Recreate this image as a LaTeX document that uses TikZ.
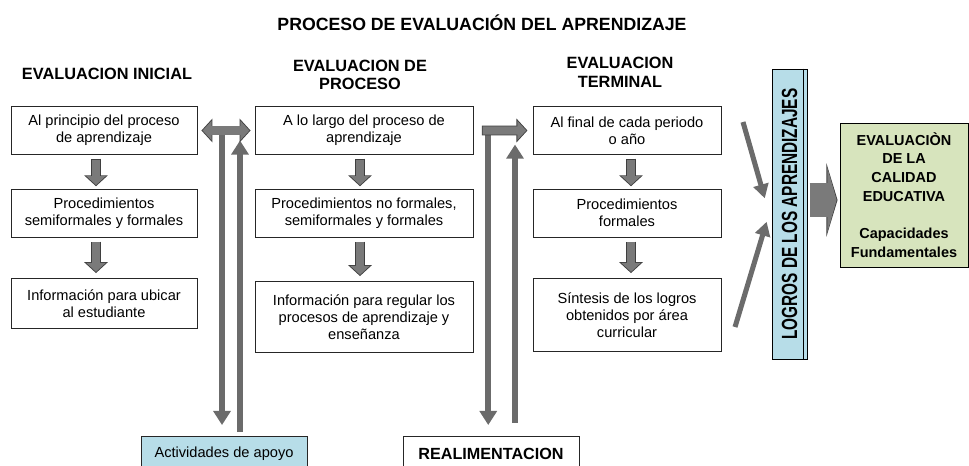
\documentclass[tikz,border=0pt]{standalone}
\usepackage{fontspec}
\setmainfont{Liberation Sans}
\usepackage{graphicx}
\usetikzlibrary{arrows.meta,calc}
\definecolor{lblue}{HTML}{B7DDE8}
\definecolor{lgreen}{HTML}{D7E4BD}
\definecolor{agray}{HTML}{7A7A7A}
\definecolor{adark}{HTML}{3F3F3F}
\definecolor{lgray}{HTML}{6B6B6B}

\begin{document}
\begin{tikzpicture}[
  box/.style={draw=black!85, line width=0.7pt, align=center, font=\fontsize{10.4}{12.2}\selectfont, minimum height=1.18cm, inner sep=2pt},
  head/.style={align=center, font=\fontsize{11.6}{13.3}\selectfont\bfseries},
  blk/.style 2 args={agray, line width=5.7pt, shorten <=#1, shorten >=#2+0.85pt, -{Triangle[width=13.5pt,length=6.4pt]},
    preaction={draw=adark, line width=6.9pt, shorten <=#1-0.6pt, shorten >=#2, -{Triangle[width=16.5pt,length=7.8pt]}}},
  blkboth/.style 2 args={agray, line width=5.7pt, shorten <=#1+0.85pt, shorten >=#2+0.85pt, {Triangle[width=13.5pt,length=6.4pt]}-{Triangle[width=13.5pt,length=6.4pt]},
    preaction={draw=adark, line width=6.9pt, shorten <=#1, shorten >=#2, {Triangle[width=16.5pt,length=7.8pt]}-{Triangle[width=16.5pt,length=7.8pt]}}},
  bigarr/.style 2 args={agray, line width=23.6pt, shorten <=#1, shorten >=#2+0.65pt, -{Triangle[width=46pt,length=6.6pt]},
    preaction={draw=adark, line width=24.8pt, shorten <=#1-0.6pt, shorten >=#2, -{Triangle[width=52pt,length=7.9pt]}}},
  varr/.style={lgray, line width=4.3pt, -{Triangle[width=12pt,length=10pt]}},
  diag/.style={lgray, line width=3.6pt, -{Triangle[width=10.7pt,length=10pt]}},
]
  \useasboundingbox (0,0) rectangle (24.225,-11.625);
  \clip (0,0) rectangle (24.225,-11.625);

  \node[head, font=\fontsize{12.6}{14}\selectfont\bfseries] (titulo) at (12.05,-0.575) {PROCESO DE EVALUACIÓN DEL APRENDIZAJE};

  \node[head] (hini) at (2.675,-1.85) {EVALUACION INICIAL};
  \node[head] (hpro) at (9.0,-1.875) {EVALUACION DE\\PROCESO};
  \node[head] (hter) at (15.5,-1.8) {EVALUACION\\TERMINAL};

  \node[box, minimum width=4.65cm] (ini1) at (2.6,-3.2625) {Al principio del proceso\\de aprendizaje};
  \node[box, minimum width=4.65cm, minimum height=1.2cm] (ini2) at (2.6,-5.325) {Procedimientos\\semiformales y formales};
  \node[box, minimum width=4.65cm, minimum height=1.25cm, anchor=north] (ini3) at (2.6,-6.95) {Información para ubicar\\al estudiante};

  \node[box, minimum width=5.45cm] (pro1) at (9.1,-3.2625) {A lo largo del proceso de\\aprendizaje};
  \node[box, minimum width=5.45cm, minimum height=1.2cm] (pro2) at (9.1,-5.325) {Procedimientos no formales,\\semiformales y formales};
  \node[box, minimum width=5.45cm, minimum height=1.775cm, anchor=north] (pro3) at (9.1,-7.025) {Información para regular los\\procesos de aprendizaje y\\enseñanza};

  \node[box, minimum width=4.7cm] (ter1) at (15.675,-3.2625) {Al final de cada periodo\\o año};
  \node[box, minimum width=4.7cm, minimum height=1.2cm] (ter2) at (15.675,-5.325) {Procedimientos\\formales};
  \node[box, minimum width=4.7cm, minimum height=1.825cm, anchor=north] (ter3) at (15.675,-6.95) {Síntesis de los logros\\obtenidos por área\\curricular};

  \node[draw, line width=0.7pt, fill=lblue, minimum width=0.875cm, minimum height=7.25cm, inner sep=0pt] (logros) at (19.7375,-5.35)
    {\rotatebox{90}{\scalebox{0.7}[1]{\fontsize{15.6}{16}\selectfont\bfseries LOGROS DE LOS APRENDIZAJES}}};
  \draw[line width=0.7pt] ([xshift=-0.1cm]logros.north east) -- ([xshift=-0.1cm]logros.south east);

  \node[draw, line width=0.7pt, fill=lgreen, minimum width=3.2cm, minimum height=3.6cm, align=center,
    font=\fontsize{10.3}{13.3}\selectfont\bfseries] (calidad) at (22.6,-4.875)
    {EVALUACIÒN\\DE LA\\CALIDAD\\EDUCATIVA\\[13.3pt]Capacidades\\Fundamentales};

  \node[box, fill=lblue, minimum width=4.15cm, minimum height=0.85cm, anchor=north] (apoyo) at (5.6,-10.9) {Actividades de apoyo};
  \node[box, minimum width=4.4cm, minimum height=0.85cm, anchor=north, font=\fontsize{11.5}{13}\selectfont\bfseries] (realim) at (12.275,-10.9) {REALIMENTACION};

  \foreach \col/\dx in {ini/-0.2, pro/-0.1, ter/0.1} {
    \draw[blk={3.5pt}{1.6pt}] ([xshift=\dx cm]\col1.south) -- ([xshift=\dx cm]\col2.north);
    \draw[blk={3.5pt}{3.5pt}] ([xshift=\dx cm]\col2.south) -- ([xshift=\dx cm]\col3.north);
  }

  \coordinate (tA) at ($(ini1.east)!0.43!(pro1.west)$);
  \coordinate (tB) at ($(pro1.east)!0.25!(ter1.west)$);

  \draw[varr, shorten >=7.8pt] (tA) -- (tA |- apoyo.north);
  \draw[varr, shorten <=2.8pt, shorten >=7.1pt] ([xshift=0.4cm]apoyo.north) -- ([xshift=0.4cm]apoyo.north |- ini1.east);
  \draw[blkboth={2.8pt}{2.8pt}] (ini1.east) -- (pro1.west);

  \draw[varr, shorten >=7.8pt] (tB) -- (tB |- realim.north);
  \draw[varr, shorten <=9.3pt, shorten >=10pt] ([xshift=0.6cm]realim.north) -- ([xshift=0.6cm]realim.north |- pro1.east);
  \draw[blk={-4pt}{3.6pt}] (tB) -- (ter1.west);

  \coordinate (d1) at (18.575,-3.05);
  \coordinate (d2) at (18.375,-8.175);
  \draw[diag, shorten >=17.5pt] (d1) -- ([yshift=-0.2cm]logros.west);
  \draw[diag, shorten >=12pt] (d2) -- ([yshift=0.21cm]logros.west);

  \coordinate (cB) at ([yshift=-0.125cm]calidad.west);
  \draw[bigarr={2.1pt}{1.4pt}] (logros.east |- cB) -- (cB);
\end{tikzpicture}
\end{document}
